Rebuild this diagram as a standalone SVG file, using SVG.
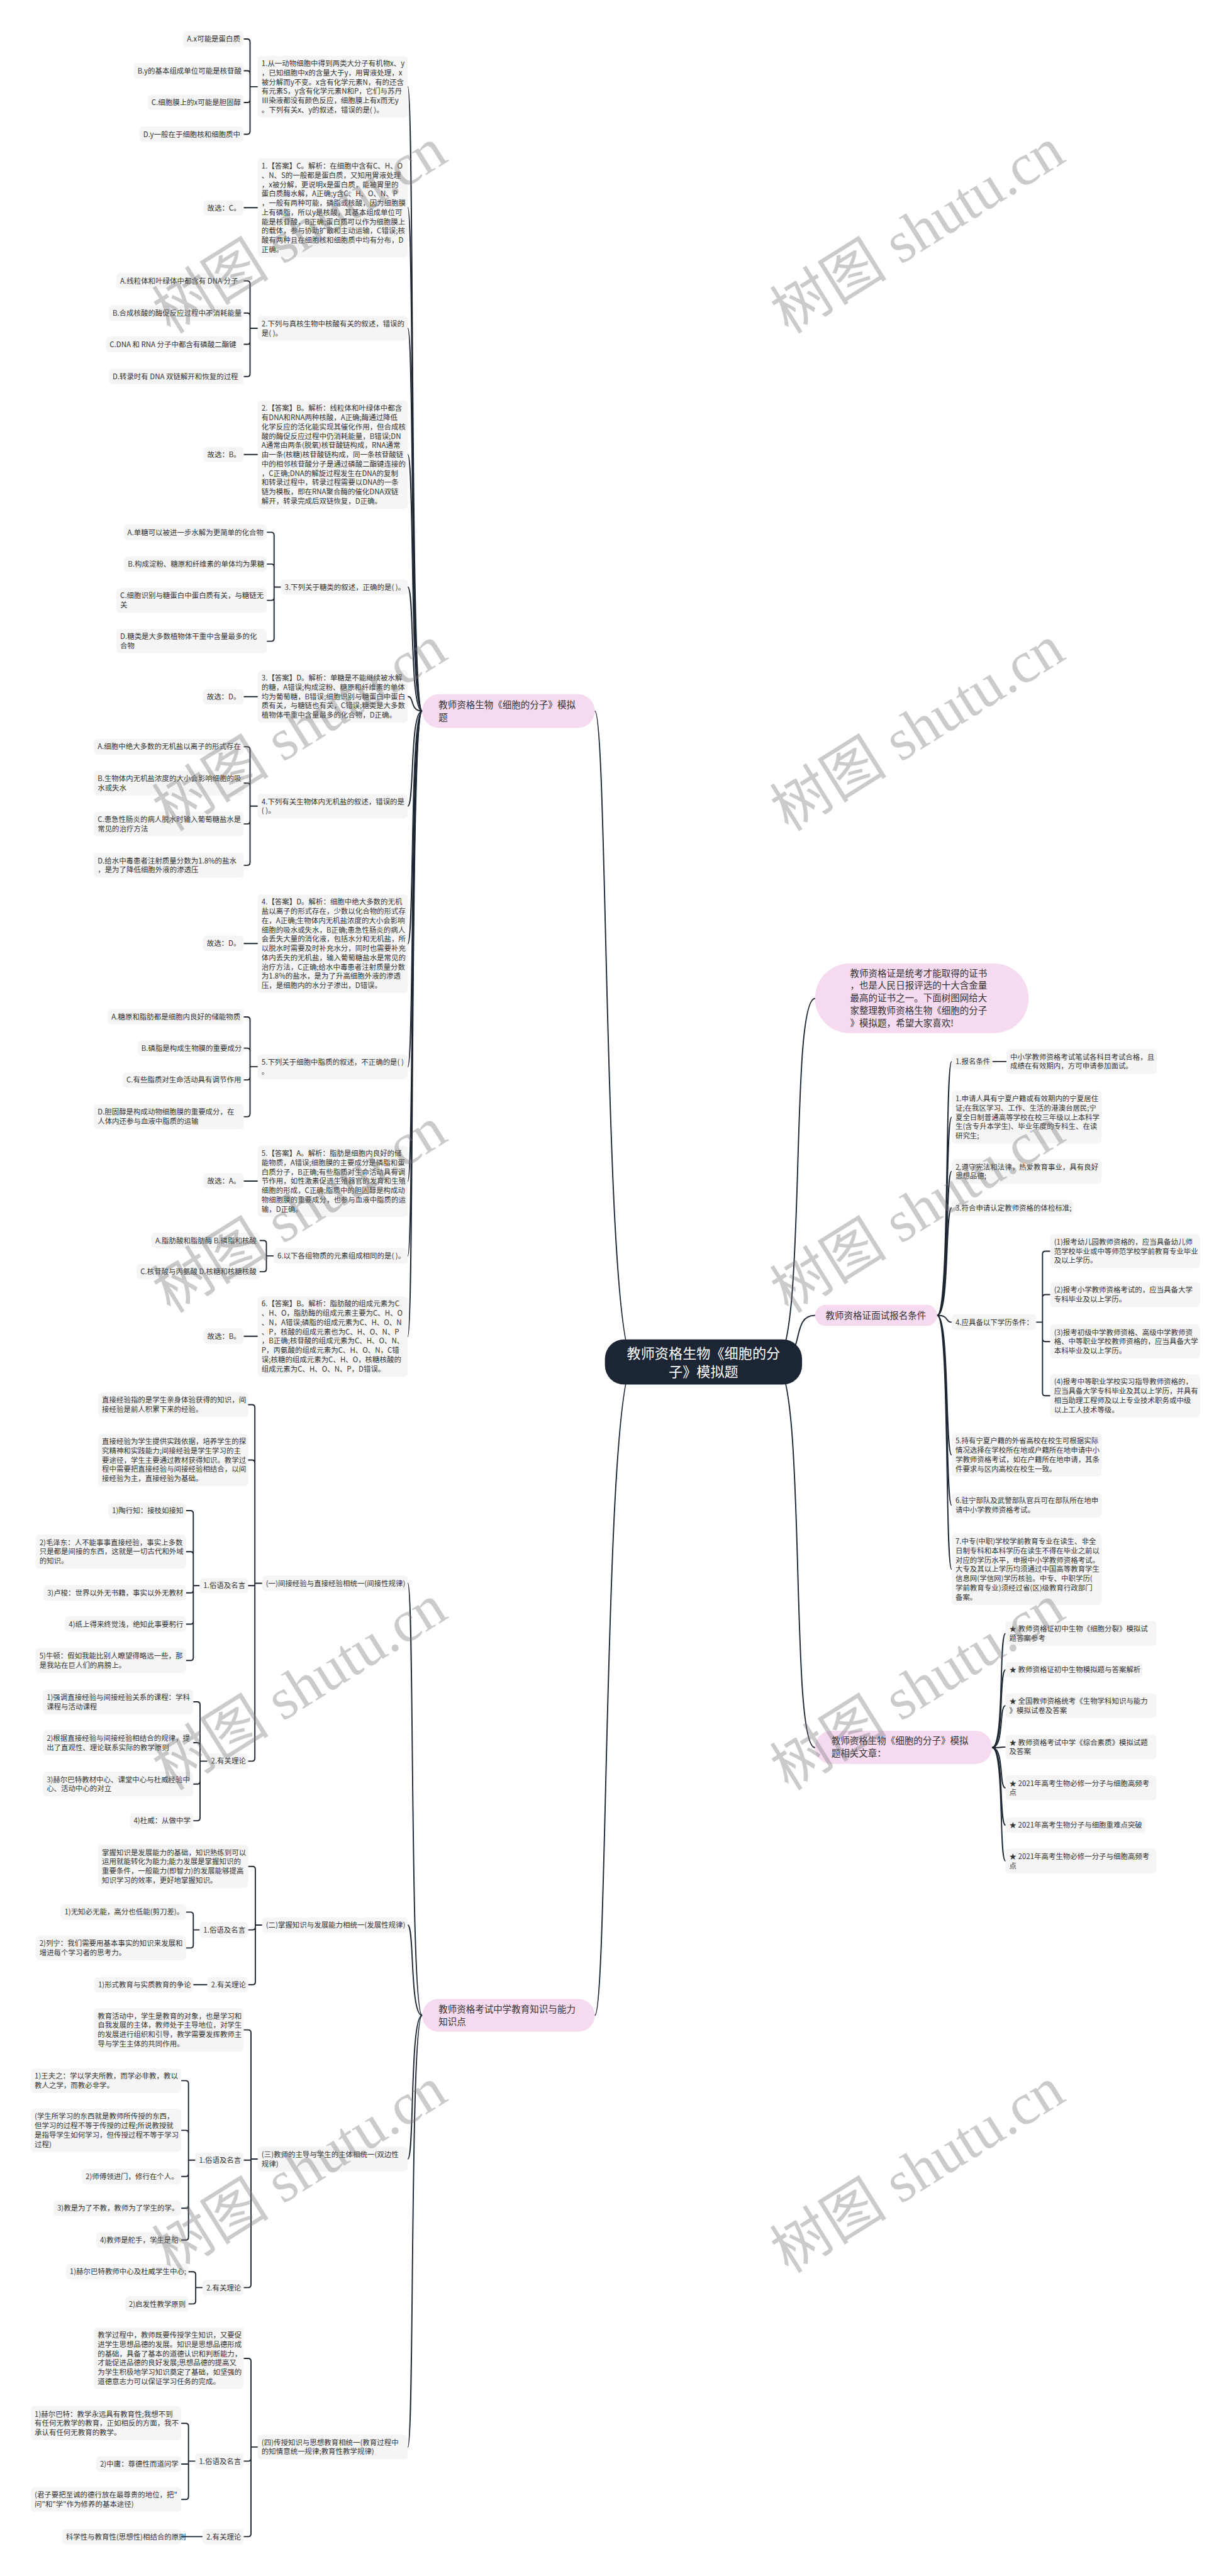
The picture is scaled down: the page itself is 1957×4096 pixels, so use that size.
<svg xmlns="http://www.w3.org/2000/svg" width="1957" height="4096" viewBox="0 0 1957 4096">
<style>
.b{fill:#f5f5f5}
.p{fill:#f6daf0}
.t{font-family:"Noto Sans CJK SC","Microsoft YaHei",sans-serif;font-size:15px;fill:#333}
.tp{font-family:"Noto Sans CJK SC","Microsoft YaHei",sans-serif;font-size:19px;fill:#333}
.tr{font-family:"Noto Sans CJK SC","Microsoft YaHei",sans-serif;font-size:29px;fill:#fff}
.c{fill:none;stroke:#1d2633;stroke-width:2.5;stroke-linecap:round}
.wm{font-family:"Liberation Serif","Noto Sans CJK SC",serif;font-size:122px;fill:#777;fill-opacity:.38}
</style>
<rect width="1957" height="4096" fill="#fff"/>
<g transform="scale(0.76445)">
<g id="connectors">
<path class="c" d="M1237 1479C1265 1479 1255 2833 1320 2833"/>
<path class="c" d="M1237 4192C1265 4192 1255 2833 1320 2833"/>
<path class="c" d="M1610 2833C1680 2833 1640 2077 1695 2077"/>
<path class="c" d="M1610 2833C1680 2833 1640 2736 1695 2736"/>
<path class="c" d="M1610 2833C1680 2833 1640 3635 1695 3635"/>
<path class="c" d="M878 1479C852 1479 862 180.4 848 180.4"/>
<path class="c" d="M878 1479C852 1479 862 432 848 432"/>
<path class="c" d="M878 1479C852 1479 862 682.8 848 682.8"/>
<path class="c" d="M878 1479C852 1479 862 945.6 848 945.6"/>
<path class="c" d="M878 1479C852 1479 862 1221.2 848 1221.2"/>
<path class="c" d="M878 1479C852 1479 862 1448.8 848 1448.8"/>
<path class="c" d="M878 1479C852 1479 862 1676.8 848 1676.8"/>
<path class="c" d="M878 1479C852 1479 862 1963 848 1963"/>
<path class="c" d="M878 1479C852 1479 862 2218.8 848 2218.8"/>
<path class="c" d="M878 1479C852 1479 862 2457 848 2457"/>
<path class="c" d="M878 1479C852 1479 862 2612.2 848 2612.2"/>
<path class="c" d="M878 1479C852 1479 862 2779.7 848 2779.7"/>
<path class="c" d="M878 4192C852 4192 862 3293.2 848 3293.2"/>
<path class="c" d="M878 4192C852 4192 862 4004.2 848 4004.2"/>
<path class="c" d="M878 4192C852 4192 862 4490.8 848 4490.8"/>
<path class="c" d="M878 4192C852 4192 862 5089.8 848 5089.8"/>
<path class="c" d="M1949 2736C1975 2736 1965 2208.2 1979 2208.2"/>
<path class="c" d="M1949 2736C1975 2736 1965 2323.8 1979 2323.8"/>
<path class="c" d="M1949 2736C1975 2736 1965 2436.8 1979 2436.8"/>
<path class="c" d="M1949 2736C1975 2736 1965 2512.2 1979 2512.2"/>
<path class="c" d="M1949 2736C1975 2736 1965 2750.2 1979 2750.2"/>
<path class="c" d="M1949 2736C1975 2736 1965 3026.1 1979 3026.1"/>
<path class="c" d="M1949 2736C1975 2736 1965 3130.8 1979 3130.8"/>
<path class="c" d="M1949 2736C1975 2736 1965 3264 1979 3264"/>
<path class="c" d="M2063 3635C2089 3635 2077 3397.8 2091 3397.8"/>
<path class="c" d="M2063 3635C2089 3635 2077 3473.2 2091 3473.2"/>
<path class="c" d="M2063 3635C2089 3635 2077 3547.8 2091 3547.8"/>
<path class="c" d="M2063 3635C2089 3635 2077 3633.8 2091 3633.8"/>
<path class="c" d="M2063 3635C2089 3635 2077 3718.8 2091 3718.8"/>
<path class="c" d="M2063 3635C2089 3635 2077 3796.2 2091 3796.2"/>
<path class="c" d="M2063 3635C2089 3635 2077 3870.8 2091 3870.8"/>
<path class="c" d="M536 180.4H520V87.2Q520 81.2 514 81.2H507M536 180.4H520V153.2Q520 147.2 514 147.2H507M536 180.4H520V207.2Q520 213.2 514 213.2H507M536 180.4H520V273.2Q520 279.2 514 279.2H507"/>
<path class="c" d="M536 432H507M536 945.4H507M536 1449H507M536 1962.5H507M536 2456.6H507M536 2779.4H507"/>
<path class="c" d="M536 682.8H520V590.2Q520 584.2 514 584.2H507M536 682.8H520V657.2Q520 651.2 514 651.2H507M536 682.8H520V710.2Q520 716.2 514 716.2H507M536 682.8H520V777.2Q520 783.2 514 783.2H507"/>
<path class="c" d="M584 1221.2H570V1113.2Q570 1107.2 564 1107.2H555M584 1221.2H570V1179.2Q570 1173.2 564 1173.2H555M584 1221.2H570V1242.8Q570 1248.8 564 1248.8H555M584 1221.2H570V1327.8Q570 1333.8 564 1333.8H555"/>
<path class="c" d="M536 1676.8H520V1559.2Q520 1553.2 514 1553.2H507M536 1676.8H520V1634.8Q520 1628.8 514 1628.8H507M536 1676.8H520V1707.8Q520 1713.8 514 1713.8H507M536 1676.8H520V1793.8Q520 1799.8 514 1799.8H507"/>
<path class="c" d="M536 2218.8H520V2121.2Q520 2115.2 514 2115.2H507M536 2218.8H520V2186.2Q520 2180.2 514 2180.2H507M536 2218.8H520V2240.2Q520 2246.2 514 2246.2H507M536 2218.8H520V2316.8Q520 2322.8 514 2322.8H507"/>
<path class="c" d="M569 2612.2H554V2586.2Q554 2580.2 548 2580.2H540M569 2612.2H554V2639.2Q554 2645.2 548 2645.2H540"/>
<path class="c" d="M545 3293.2H530V2927.8Q530 2921.8 524 2921.8H516M545 3293.2H530V3042.8Q530 3036.8 524 3036.8H516M545 3293.2H530V3298.2H516M545 3293.2H530V3657.2Q530 3663.2 524 3663.2H516"/>
<path class="c" d="M415 3298.2H402V3148.2Q402 3142.2 396 3142.2H387M415 3298.2H402V3233.5Q402 3227.5 396 3227.5H387M415 3298.2H402V3307.2Q402 3313.2 396 3313.2H387M415 3298.2H402V3372.2Q402 3378.2 396 3378.2H387M415 3298.2H402V3447.8Q402 3453.8 396 3453.8H387"/>
<path class="c" d="M431 3663.2H416V3545.8Q416 3539.8 410 3539.8H402M431 3663.2H416V3630.8Q416 3624.8 410 3624.8H402M431 3663.2H416V3704.8Q416 3710.8 410 3710.8H402M431 3663.2H416V3781.2Q416 3787.2 410 3787.2H402"/>
<path class="c" d="M545 4004.2H531V3888.1Q531 3882.1 525 3882.1H517M545 4004.2H531V4008.2Q531 4014.2 525 4014.2H517M545 4004.2H531V4122.2Q531 4128.2 525 4128.2H517"/>
<path class="c" d="M415 4014.2H402V3983.2Q402 3977.2 396 3977.2H387M415 4014.2H402V4045.8Q402 4051.8 396 4051.8H387M431 4128.2H402"/>
<path class="c" d="M536 4490.8H522V4228.1Q522 4222.1 516 4222.1H507M536 4490.8H522V4493.2H507M536 4490.8H522V4752.2Q522 4758.2 516 4758.2H507"/>
<path class="c" d="M406 4493.2H392V4333.8Q392 4327.8 386 4327.8H377M406 4493.2H392V4437.1Q392 4431.1 386 4431.1H377M406 4493.2H392V4521.2Q392 4527.2 386 4527.2H377M406 4493.2H392V4587.2Q392 4593.2 386 4593.2H377M406 4493.2H392V4653.2Q392 4659.2 386 4659.2H377"/>
<path class="c" d="M421 4758.2H407V4731.2Q407 4725.2 401 4725.2H392M421 4758.2H407V4786.2Q407 4792.2 401 4792.2H392"/>
<path class="c" d="M536 5089.8H522V4911.4Q522 4905.4 516 4905.4H507M536 5089.8H522V5113.2Q522 5119.2 516 5119.2H507M536 5089.8H522V5270.2Q522 5276.2 516 5276.2H507"/>
<path class="c" d="M406 5119.2H392V5046.5Q392 5040.5 386 5040.5H377M406 5119.2H392V5125.2H377M406 5119.2H392V5192.8Q392 5198.8 386 5198.8H377M421 5276.2H377"/>
<path class="c" d="M2064 2208H2093"/>
<path class="c" d="M2155 2750.2H2168V2608.5Q2168 2602.5 2174 2602.5H2184M2155 2750.2H2168V2698.8Q2168 2692.8 2174 2692.8H2184M2155 2750.2H2168V2784.5Q2168 2790.5 2174 2790.5H2184M2155 2750.2H2168V2897.1Q2168 2903.1 2174 2903.1H2184"/>
</g>

<g id="root"><rect x="1258" y="2786" width="410" height="94" rx="40" fill="#1b2533"/><text class="tr" x="1463" y="2826" text-anchor="middle">教师资格生物《细胞的分<tspan x="1463" dy="38">子》模拟题</tspan></text></g>

<g id="branch-a"><rect class="p" x="878" y="1444" width="359" height="70" rx="35"/><text class="tp" x="912" y="1473">教师资格生物《细胞的分子》模拟<tspan x="912" dy="26">题</tspan></text></g>
<g id="branch-b"><rect class="p" x="878" y="4158" width="359" height="68" rx="34"/><text class="tp" x="912" y="4186">教师资格考试中学教育知识与能力<tspan x="912" dy="26">知识点</tspan></text></g>
<g id="intro"><rect class="p" x="1695" y="2004" width="444" height="145" rx="72"/><text class="tp" x="1768" y="2031">教师资格证是统考才能取得的证书<tspan x="1768" dy="26">，也是人民日报评选的十大含金量</tspan><tspan x="1768" dy="26">最高的证书之一。下面树图网给大</tspan><tspan x="1768" dy="26">家整理教师资格生物《细胞的分子</tspan><tspan x="1768" dy="26">》模拟题，希望大家喜欢!</tspan></text></g>
<g id="cond"><rect class="p" x="1695" y="2714" width="254" height="44" rx="22"/><text class="tp" x="1717" y="2743">教师资格证面试报名条件</text></g>
<g id="articles"><rect class="p" x="1695" y="3600" width="368" height="69" rx="34"/><text class="tp" x="1729" y="3628">教师资格生物《细胞的分子》模拟<tspan x="1729" dy="26">题相关文章：</tspan></text></g>

<g id="q1"><rect class="b" x="536" y="116" width="312" height="128.8" rx="8"/><text class="t" x="544" y="137.6">1.从一动物细胞中得到两类大分子有机物x、y<tspan x="544" dy="19.3">，已知细胞中x的含量大于y，用胃液处理，x</tspan><tspan x="544" dy="19.3">被分解而y不变。x含有化学元素N，有的还含</tspan><tspan x="544" dy="19.3">有元素S，y含有化学元素N和P，它们与苏丹</tspan><tspan x="544" dy="19.3">Ⅲ染液都没有颜色反应，细胞膜上有x而无y</tspan><tspan x="544" dy="19.3">。下列有关x、y的叙述，错误的是( )。</tspan></text></g>
<g id="q1a"><rect class="b" x="381" y="65" width="126" height="32.3" rx="8"/><text class="t" x="389" y="86.6">A.x可能是蛋白质</text></g>
<g id="q1b"><rect class="b" x="278" y="131" width="229" height="32.3" rx="8"/><text class="t" x="286" y="152.6">B.y的基本组成单位可能是核苷酸</text></g>
<g id="q1c"><rect class="b" x="307" y="197" width="200" height="32.3" rx="8"/><text class="t" x="315" y="218.6">C.细胞膜上的x可能是胆固醇</text></g>
<g id="q1d"><rect class="b" x="290" y="263" width="217" height="32.3" rx="8"/><text class="t" x="298" y="284.6">D.y一般在于细胞核和细胞质中</text></g>
<g id="a1"><rect class="b" x="536" y="329" width="312" height="206" rx="8"/><text class="t" x="544" y="350.6">1.【答案】C。解析：在细胞中含有C、H、O<tspan x="544" dy="19.3">、N、S的一般都是蛋白质，又知用胃液处理</tspan><tspan x="544" dy="19.3">，x被分解，更说明x是蛋白质，能被胃里的</tspan><tspan x="544" dy="19.3">蛋白质酶水解，A正确;y含C、H、O、N、P</tspan><tspan x="544" dy="19.3">，一般有两种可能，磷脂或核酸，因为细胞膜</tspan><tspan x="544" dy="19.3">上有磷脂，所以y是核酸，其基本组成单位可</tspan><tspan x="544" dy="19.3">能是核苷酸，B正确;蛋白质可以作为细胞膜上</tspan><tspan x="544" dy="19.3">的载体，参与协助扩散和主动运输，C错误;核</tspan><tspan x="544" dy="19.3">酸有两种且在细胞核和细胞质中均有分布，D</tspan><tspan x="544" dy="19.3">正确。</tspan></text></g>
<g id="g1"><rect class="b" x="423" y="416" width="84" height="32.3" rx="8"/><text class="t" x="431" y="437.6">故选：C。</text></g>

<g id="q2"><rect class="b" x="536" y="657" width="312" height="51.6" rx="8"/><text class="t" x="544" y="678.6">2.下列与真核生物中核酸有关的叙述，错误的<tspan x="544" dy="19.3">是( )。</tspan></text></g>
<g id="q2a"><rect class="b" x="242" y="568" width="265" height="32.3" rx="8"/><text class="t" x="250" y="589.6">A.线粒体和叶绿体中都含有 DNA 分子</text></g>
<g id="q2b"><rect class="b" x="226" y="635" width="281" height="32.3" rx="8"/><text class="t" x="234" y="656.6">B.合成核酸的酶促反应过程中不消耗能量</text></g>
<g id="q2c"><rect class="b" x="220" y="700" width="287" height="32.3" rx="8"/><text class="t" x="228" y="721.6">C.DNA 和 RNA 分子中都含有磷酸二酯键</text></g>
<g id="q2d"><rect class="b" x="226" y="767" width="281" height="32.3" rx="8"/><text class="t" x="234" y="788.6">D.转录时有 DNA 双链解开和恢复的过程</text></g>
<g id="a2"><rect class="b" x="536" y="833" width="312" height="225.3" rx="8"/><text class="t" x="544" y="854.6">2.【答案】B。解析：线粒体和叶绿体中都含<tspan x="544" dy="19.3">有DNA和RNA两种核酸，A正确;酶通过降低</tspan><tspan x="544" dy="19.3">化学反应的活化能实现其催化作用，但合成核</tspan><tspan x="544" dy="19.3">酸的酶促反应过程中仍消耗能量，B错误;DN</tspan><tspan x="544" dy="19.3">A通常由两条(脱氧)核苷酸链构成，RNA通常</tspan><tspan x="544" dy="19.3">由一条(核糖)核苷酸链构成，同一条核苷酸链</tspan><tspan x="544" dy="19.3">中的相邻核苷酸分子是通过磷酸二酯键连接的</tspan><tspan x="544" dy="19.3">，C正确;DNA的解旋过程发生在DNA的复制</tspan><tspan x="544" dy="19.3">和转录过程中，转录过程需要以DNA的一条</tspan><tspan x="544" dy="19.3">链为模板，即在RNA聚合酶的催化DNA双链</tspan><tspan x="544" dy="19.3">解开，转录完成后双链恢复，D正确。</tspan></text></g>
<g id="g2"><rect class="b" x="423" y="929" width="84" height="32.3" rx="8"/><text class="t" x="431" y="950.6">故选：B。</text></g>

<g id="q3"><rect class="b" x="584" y="1205" width="264" height="32.3" rx="8"/><text class="t" x="592" y="1226.6">3.下列关于糖类的叙述，正确的是( )。</text></g>
<g id="q3a"><rect class="b" x="257" y="1091" width="298" height="32.3" rx="8"/><text class="t" x="265" y="1112.6">A.单糖可以被进一步水解为更简单的化合物</text></g>
<g id="q3b"><rect class="b" x="258" y="1157" width="297" height="32.3" rx="8"/><text class="t" x="266" y="1178.6">B.构成淀粉、糖原和纤维素的单体均为果糖</text></g>
<g id="q3c"><rect class="b" x="242" y="1223" width="313" height="51.6" rx="8"/><text class="t" x="250" y="1244.6">C.细胞识别与糖蛋白中蛋白质有关，与糖链无<tspan x="250" dy="19.3">关</tspan></text></g>
<g id="q3d"><rect class="b" x="242" y="1308" width="313" height="51.6" rx="8"/><text class="t" x="250" y="1329.6">D.糖类是大多数植物体干重中含量最多的化<tspan x="250" dy="19.3">合物</tspan></text></g>
<g id="a3"><rect class="b" x="536" y="1394" width="312" height="109.5" rx="8"/><text class="t" x="544" y="1415.6">3.【答案】D。解析：单糖是不能继续被水解<tspan x="544" dy="19.3">的糖，A错误;构成淀粉、糖原和纤维素的单体</tspan><tspan x="544" dy="19.3">均为葡萄糖，B错误;细胞识别与糖蛋白中蛋白</tspan><tspan x="544" dy="19.3">质有关，与糖链也有关，C错误;糖类是大多数</tspan><tspan x="544" dy="19.3">植物体干重中含量最多的化合物，D正确。</tspan></text></g>
<g id="g3"><rect class="b" x="422" y="1433" width="85" height="32.3" rx="8"/><text class="t" x="430" y="1454.6">故选：D。</text></g>

<g id="q4"><rect class="b" x="536" y="1651" width="312" height="51.6" rx="8"/><text class="t" x="544" y="1672.6">4.下列有关生物体内无机盐的叙述，错误的是<tspan x="544" dy="19.3">( )。</tspan></text></g>
<g id="q4a"><rect class="b" x="195" y="1537" width="312" height="32.3" rx="8"/><text class="t" x="203" y="1558.6">A.细胞中绝大多数的无机盐以离子的形式存在</text></g>
<g id="q4b"><rect class="b" x="195" y="1603" width="312" height="51.6" rx="8"/><text class="t" x="203" y="1624.6">B.生物体内无机盐浓度的大小会影响细胞的吸<tspan x="203" dy="19.3">水或失水</tspan></text></g>
<g id="q4c"><rect class="b" x="195" y="1688" width="312" height="51.6" rx="8"/><text class="t" x="203" y="1709.6">C.患急性肠炎的病人脱水时输入葡萄糖盐水是<tspan x="203" dy="19.3">常见的治疗方法</tspan></text></g>
<g id="q4d"><rect class="b" x="195" y="1774" width="312" height="51.6" rx="8"/><text class="t" x="203" y="1795.6">D.给水中毒患者注射质量分数为1.8%的盐水<tspan x="203" dy="19.3">，是为了降低细胞外液的渗透压</tspan></text></g>
<g id="a4"><rect class="b" x="536" y="1860" width="312" height="206" rx="8"/><text class="t" x="544" y="1881.6">4.【答案】D。解析：细胞中绝大多数的无机<tspan x="544" dy="19.3">盐以离子的形式存在，少数以化合物的形式存</tspan><tspan x="544" dy="19.3">在，A正确;生物体内无机盐浓度的大小会影响</tspan><tspan x="544" dy="19.3">细胞的吸水或失水，B正确;患急性肠炎的病人</tspan><tspan x="544" dy="19.3">会丢失大量的消化液，包括水分和无机盐，所</tspan><tspan x="544" dy="19.3">以脱水时需要及时补充水分，同时也需要补充</tspan><tspan x="544" dy="19.3">体内丢失的无机盐，输入葡萄糖盐水是常见的</tspan><tspan x="544" dy="19.3">治疗方法，C正确;给水中毒患者注射质量分数</tspan><tspan x="544" dy="19.3">为1.8%的盐水，是为了升高细胞外液的渗透</tspan><tspan x="544" dy="19.3">压，是细胞内的水分子渗出，D错误。</tspan></text></g>
<g id="g4"><rect class="b" x="422" y="1946" width="85" height="32.3" rx="8"/><text class="t" x="430" y="1967.6">故选：D。</text></g>

<g id="q5"><rect class="b" x="536" y="2193" width="312" height="51.6" rx="8"/><text class="t" x="544" y="2214.6">5.下列关于细胞中脂质的叙述，不正确的是( )<tspan x="544" dy="19.3">。</tspan></text></g>
<g id="q5a"><rect class="b" x="224" y="2099" width="283" height="32.3" rx="8"/><text class="t" x="232" y="2120.6">A.糖原和脂肪都是细胞内良好的储能物质</text></g>
<g id="q5b"><rect class="b" x="286" y="2164" width="221" height="32.3" rx="8"/><text class="t" x="294" y="2185.6">B.磷脂是构成生物膜的重要成分</text></g>
<g id="q5c"><rect class="b" x="255" y="2230" width="252" height="32.3" rx="8"/><text class="t" x="263" y="2251.6">C.有些脂质对生命活动具有调节作用</text></g>
<g id="q5d"><rect class="b" x="195" y="2297" width="312" height="51.6" rx="8"/><text class="t" x="203" y="2318.6">D.胆固醇是构成动物细胞膜的重要成分，在<tspan x="203" dy="19.3">人体内还参与血液中脂质的运输</tspan></text></g>
<g id="a5"><rect class="b" x="536" y="2383" width="312" height="148.1" rx="8"/><text class="t" x="544" y="2404.6">5.【答案】A。解析：脂肪是细胞内良好的储<tspan x="544" dy="19.3">能物质，A错误;细胞膜的主要成分是磷脂和蛋</tspan><tspan x="544" dy="19.3">白质分子，B正确;有些脂质对生命活动具有调</tspan><tspan x="544" dy="19.3">节作用，如性激素促进生殖器官的发育和生殖</tspan><tspan x="544" dy="19.3">细胞的形成，C正确;脂质中的胆固醇是构成动</tspan><tspan x="544" dy="19.3">物细胞膜的重要成分，也参与血液中脂质的运</tspan><tspan x="544" dy="19.3">输，D正确。</tspan></text></g>
<g id="g5"><rect class="b" x="423" y="2440" width="84" height="32.3" rx="8"/><text class="t" x="431" y="2461.6">故选：A。</text></g>

<g id="q6"><rect class="b" x="569" y="2596" width="279" height="32.3" rx="8"/><text class="t" x="577" y="2617.6">6.以下各组物质的元素组成相同的是( )。</text></g>
<g id="q6a"><rect class="b" x="315" y="2564" width="225" height="32.3" rx="8"/><text class="t" x="323" y="2585.6">A.脂肪酸和脂肪酶 B.磷脂和核酸</text></g>
<g id="q6b"><rect class="b" x="284" y="2629" width="256" height="32.3" rx="8"/><text class="t" x="292" y="2650.6">C.核苷酸与丙氨酸 D.核糖和核糖核酸</text></g>
<g id="a6"><rect class="b" x="536" y="2696" width="312" height="167.4" rx="8"/><text class="t" x="544" y="2717.6">6.【答案】B。解析：脂肪酸的组成元素为C<tspan x="544" dy="19.3">、H、O，脂肪酶的组成元素主要为C、H、O</tspan><tspan x="544" dy="19.3">、N，A错误;磷脂的组成元素为C、H、O、N</tspan><tspan x="544" dy="19.3">、P，核酸的组成元素也为C、H、O、N、P</tspan><tspan x="544" dy="19.3">，B正确;核苷酸的组成元素为C、H、O、N、</tspan><tspan x="544" dy="19.3">P，丙氨酸的组成元素为C、H、O、N，C错</tspan><tspan x="544" dy="19.3">误;核糖的组成元素为C、H、O，核糖核酸的</tspan><tspan x="544" dy="19.3">组成元素为C、H、O、N、P，D错误。</tspan></text></g>
<g id="g6"><rect class="b" x="423" y="2763" width="84" height="32.3" rx="8"/><text class="t" x="431" y="2784.6">故选：B。</text></g>

<g id="l1"><rect class="b" x="545" y="3277" width="303" height="32.3" rx="8"/><text class="t" x="553" y="3298.6">(一)间接经验与直接经验相统一(间接性规律)</text></g>
<g id="t1a"><rect class="b" x="204" y="2896" width="312" height="51.6" rx="8"/><text class="t" x="212" y="2917.6">直接经验指的是学生亲身体验获得的知识，间<tspan x="212" dy="19.3">接经验是前人积累下来的经验。</tspan></text></g>
<g id="t1b"><rect class="b" x="204" y="2982" width="312" height="109.5" rx="8"/><text class="t" x="212" y="3003.6">直接经验为学生提供实践依据，培养学生的探<tspan x="212" dy="19.3">究精神和实践能力;间接经验是学生学习的主</tspan><tspan x="212" dy="19.3">要途径，学生主要通过教材获得知识。教学过</tspan><tspan x="212" dy="19.3">程中需要把直接经验与间接经验相结合，以间</tspan><tspan x="212" dy="19.3">接经验为主，直接经验为基础。</tspan></text></g>
<g id="s1"><rect class="b" x="415" y="3282" width="101" height="32.3" rx="8"/><text class="t" x="423" y="3303.6">1.俗语及名言</text></g>
<g id="s1a"><rect class="b" x="225" y="3126" width="162" height="32.3" rx="8"/><text class="t" x="233" y="3147.6">1)陶行知：接枝如接知</text></g>
<g id="s1b"><rect class="b" x="74" y="3192" width="313" height="70.9" rx="8"/><text class="t" x="82" y="3213.6">2)毛泽东：人不能事事直接经验，事实上多数<tspan x="82" dy="19.3">只是都是间接的东西，这就是一切古代和外域</tspan><tspan x="82" dy="19.3">的知识。</tspan></text></g>
<g id="s1c"><rect class="b" x="90" y="3297" width="297" height="32.3" rx="8"/><text class="t" x="98" y="3318.6">3)卢梭：世界以外无书籍，事实以外无教材</text></g>
<g id="s1d"><rect class="b" x="135" y="3362" width="252" height="32.3" rx="8"/><text class="t" x="143" y="3383.6">4)纸上得来终觉浅，绝知此事要躬行</text></g>
<g id="s1e"><rect class="b" x="74" y="3428" width="313" height="51.6" rx="8"/><text class="t" x="82" y="3449.6">5)牛顿：假如我能比别人瞭望得略远一些，那<tspan x="82" dy="19.3">是我站在巨人们的肩膀上。</tspan></text></g>
<g id="r1"><rect class="b" x="431" y="3647" width="85" height="32.3" rx="8"/><text class="t" x="439" y="3668.6">2.有关理论</text></g>
<g id="r1a"><rect class="b" x="89" y="3514" width="313" height="51.6" rx="8"/><text class="t" x="97" y="3535.6">1)强调直接经验与间接经验关系的课程：学科<tspan x="97" dy="19.3">课程与活动课程</tspan></text></g>
<g id="r1b"><rect class="b" x="89" y="3599" width="313" height="51.6" rx="8"/><text class="t" x="97" y="3620.6">2)根据直接经验与间接经验相结合的规律，提<tspan x="97" dy="19.3">出了直观性、理论联系实际的教学原则</tspan></text></g>
<g id="r1c"><rect class="b" x="89" y="3685" width="313" height="51.6" rx="8"/><text class="t" x="97" y="3706.6">3)赫尔巴特教材中心、课堂中心与杜威经验中<tspan x="97" dy="19.3">心、活动中心的对立</tspan></text></g>
<g id="r1d"><rect class="b" x="270" y="3771" width="132" height="32.3" rx="8"/><text class="t" x="278" y="3792.6">4)杜威：从做中学</text></g>

<g id="l2"><rect class="b" x="545" y="3988" width="303" height="32.3" rx="8"/><text class="t" x="553" y="4009.6">(二)掌握知识与发展能力相统一(发展性规律)</text></g>
<g id="t2"><rect class="b" x="204" y="3837" width="312" height="90.2" rx="8"/><text class="t" x="212" y="3858.6">掌握知识是发展能力的基础，知识熟练到可以<tspan x="212" dy="19.3">运用就能转化为能力;能力发展是掌握知识的</tspan><tspan x="212" dy="19.3">重要条件，一般能力(即智力)的发展能够提高</tspan><tspan x="212" dy="19.3">知识学习的效率，更好地掌握知识。</tspan></text></g>
<g id="s2"><rect class="b" x="415" y="3998" width="101" height="32.3" rx="8"/><text class="t" x="423" y="4019.6">1.俗语及名言</text></g>
<g id="s2a"><rect class="b" x="126" y="3961" width="261" height="32.3" rx="8"/><text class="t" x="134" y="3982.6">1)无知必无能，高分也低能(剪刀差)。</text></g>
<g id="s2b"><rect class="b" x="74" y="4026" width="313" height="51.6" rx="8"/><text class="t" x="82" y="4047.6">2)列宁：我们需要用基本事实的知识来发展和<tspan x="82" dy="19.3">增进每个学习者的思考力。</tspan></text></g>
<g id="r2"><rect class="b" x="431" y="4112" width="85" height="32.3" rx="8"/><text class="t" x="439" y="4133.6">2.有关理论</text></g>
<g id="r2a"><rect class="b" x="196" y="4112" width="206" height="32.3" rx="8"/><text class="t" x="204" y="4133.6">1)形式教育与实质教育的争论</text></g>

<g id="l3"><rect class="b" x="536" y="4465" width="312" height="51.6" rx="8"/><text class="t" x="544" y="4486.6">(三)教师的主导与学生的主体相统一(双边性<tspan x="544" dy="19.3">规律)</tspan></text></g>
<g id="t3"><rect class="b" x="195" y="4177" width="312" height="90.2" rx="8"/><text class="t" x="203" y="4198.6">教育活动中，学生是教育的对象，也是学习和<tspan x="203" dy="19.3">自我发展的主体，教师处于主导地位，对学生</tspan><tspan x="203" dy="19.3">的发展进行组织和引导，教学需要发挥教师主</tspan><tspan x="203" dy="19.3">导与学生主体的共同作用。</tspan></text></g>
<g id="s3"><rect class="b" x="406" y="4477" width="101" height="32.3" rx="8"/><text class="t" x="414" y="4498.6">1.俗语及名言</text></g>
<g id="s3a"><rect class="b" x="64" y="4302" width="313" height="51.6" rx="8"/><text class="t" x="72" y="4323.6">1)王夫之：学以学夫所教，而学必非教，教以<tspan x="72" dy="19.3">教人之学，而教必非学。</tspan></text></g>
<g id="s3b"><rect class="b" x="64" y="4386" width="313" height="90.2" rx="8"/><text class="t" x="72" y="4407.6">(学生所学习的东西就是教师所传授的东西，<tspan x="72" dy="19.3">但学习的过程不等于传授的过程;所说教授就</tspan><tspan x="72" dy="19.3">是指导学生如何学习，但传授过程不等于学习</tspan><tspan x="72" dy="19.3">过程)</tspan></text></g>
<g id="s3c"><rect class="b" x="170" y="4511" width="207" height="32.3" rx="8"/><text class="t" x="178" y="4532.6">2)师傅领进门，修行在个人。</text></g>
<g id="s3d"><rect class="b" x="111" y="4577" width="266" height="32.3" rx="8"/><text class="t" x="119" y="4598.6">3)教是为了不教，教师为了学生的学。</text></g>
<g id="s3e"><rect class="b" x="200" y="4643" width="177" height="32.3" rx="8"/><text class="t" x="208" y="4664.6">4)教师是舵手，学生是船</text></g>
<g id="r3"><rect class="b" x="421" y="4742" width="86" height="32.3" rx="8"/><text class="t" x="429" y="4763.6">2.有关理论</text></g>
<g id="r3a"><rect class="b" x="137" y="4709" width="255" height="32.3" rx="8"/><text class="t" x="145" y="4730.6">1)赫尔巴特教师中心及杜威学生中心;</text></g>
<g id="r3b"><rect class="b" x="260" y="4776" width="132" height="32.3" rx="8"/><text class="t" x="268" y="4797.6">2)启发性教学原则</text></g>

<g id="l4"><rect class="b" x="536" y="5064" width="312" height="51.6" rx="8"/><text class="t" x="544" y="5085.6">(四)传授知识与思想教育相统一(教育过程中<tspan x="544" dy="19.3">的知情意统一规律;教育性教学规律)</tspan></text></g>
<g id="t4"><rect class="b" x="195" y="4841" width="312" height="128.8" rx="8"/><text class="t" x="203" y="4862.6">教学过程中，教师既要传授学生知识，又要促<tspan x="203" dy="19.3">进学生思想品德的发展。知识是思想品德形成</tspan><tspan x="203" dy="19.3">的基础，具备了基本的道德认识和判断能力，</tspan><tspan x="203" dy="19.3">才能促进品德的良好发展;思想品德的提高又</tspan><tspan x="203" dy="19.3">为学生积极地学习知识奠定了基础，如坚强的</tspan><tspan x="203" dy="19.3">道德意志力可以保证学习任务的完成。</tspan></text></g>
<g id="s4"><rect class="b" x="406" y="5103" width="101" height="32.3" rx="8"/><text class="t" x="414" y="5124.6">1.俗语及名言</text></g>
<g id="s4a"><rect class="b" x="64" y="5005" width="313" height="70.9" rx="8"/><text class="t" x="72" y="5026.6">1)赫尔巴特：教学永远具有教育性;我想不到<tspan x="72" dy="19.3">有任何无教学的教育，正如相反的方面，我不</tspan><tspan x="72" dy="19.3">承认有任何无教育的教学。</tspan></text></g>
<g id="s4b"><rect class="b" x="200" y="5109" width="177" height="32.3" rx="8"/><text class="t" x="208" y="5130.6">2)中庸：尊德性而道问学</text></g>
<g id="s4c"><rect class="b" x="64" y="5173" width="313" height="51.6" rx="8"/><text class="t" x="72" y="5194.6">(君子要把至诚的德行放在最尊贵的地位，把"<tspan x="72" dy="19.3">问"和"学"作为修养的基本途径)</tspan></text></g>
<g id="r4"><rect class="b" x="421" y="5260" width="86" height="32.3" rx="8"/><text class="t" x="429" y="5281.6">2.有关理论</text></g>
<g id="r4a"><rect class="b" x="129" y="5260" width="248" height="32.3" rx="8"/><text class="t" x="137" y="5281.6">科学性与教育性(思想性)相结合的原则</text></g>

<g id="c1"><rect class="b" x="1979" y="2192" width="85" height="32.3" rx="8"/><text class="t" x="1987" y="2213.6">1.报名条件</text></g>
<g id="c1x"><rect class="b" x="2093" y="2182" width="313" height="51.6" rx="8"/><text class="t" x="2101" y="2203.6">中小学教师资格考试笔试各科目考试合格，且<tspan x="2101" dy="19.3">成绩在有效期内，方可申请参加面试。</tspan></text></g>
<g id="c2"><rect class="b" x="1979" y="2269" width="312" height="109.5" rx="8"/><text class="t" x="1987" y="2290.6">1.申请人具有宁夏户籍或有效期内的宁夏居住<tspan x="1987" dy="19.3">证;在我区学习、工作、生活的港澳台居民;宁</tspan><tspan x="1987" dy="19.3">夏全日制普通高等学校在校三年级以上本科学</tspan><tspan x="1987" dy="19.3">生(含专升本学生)、毕业年度的专科生、在读</tspan><tspan x="1987" dy="19.3">研究生;</tspan></text></g>
<g id="c3"><rect class="b" x="1979" y="2411" width="312" height="51.6" rx="8"/><text class="t" x="1987" y="2432.6">2.遵守宪法和法律，热爱教育事业，具有良好<tspan x="1987" dy="19.3">思想品德;</tspan></text></g>
<g id="c4"><rect class="b" x="1979" y="2496" width="253" height="32.3" rx="8"/><text class="t" x="1987" y="2517.6">3.符合申请认定教师资格的体检标准;</text></g>
<g id="c5"><rect class="b" x="1979" y="2734" width="176" height="32.3" rx="8"/><text class="t" x="1987" y="2755.6">4.应具备以下学历条件：</text></g>
<g id="e1"><rect class="b" x="2184" y="2567" width="312" height="70.9" rx="8"/><text class="t" x="2192" y="2588.6">(1)报考幼儿园教师资格的，应当具备幼儿师<tspan x="2192" dy="19.3">范学校毕业或中等师范学校学前教育专业毕业</tspan><tspan x="2192" dy="19.3">及以上学历。</tspan></text></g>
<g id="e2"><rect class="b" x="2184" y="2667" width="312" height="51.6" rx="8"/><text class="t" x="2192" y="2688.6">(2)报考小学教师资格考试的，应当具备大学<tspan x="2192" dy="19.3">专科毕业及以上学历。</tspan></text></g>
<g id="e3"><rect class="b" x="2184" y="2755" width="312" height="70.9" rx="8"/><text class="t" x="2192" y="2776.6">(3)报考初级中学教师资格、高级中学教师资<tspan x="2192" dy="19.3">格、中等职业学校教师资格的，应当具备大学</tspan><tspan x="2192" dy="19.3">本科毕业及以上学历。</tspan></text></g>
<g id="e4"><rect class="b" x="2184" y="2858" width="312" height="90.2" rx="8"/><text class="t" x="2192" y="2879.6">(4)报考中等职业学校实习指导教师资格的，<tspan x="2192" dy="19.3">应当具备大学专科毕业及其以上学历，并具有</tspan><tspan x="2192" dy="19.3">相当助理工程师及以上专业技术职务或中级</tspan><tspan x="2192" dy="19.3">以上工人技术等级。</tspan></text></g>
<g id="c6"><rect class="b" x="1979" y="2981" width="312" height="90.2" rx="8"/><text class="t" x="1987" y="3002.6">5.持有宁夏户籍的外省高校在校生可根据实际<tspan x="1987" dy="19.3">情况选择在学校所在地或户籍所在地申请中小</tspan><tspan x="1987" dy="19.3">学教师资格考试，如在户籍所在地申请，其条</tspan><tspan x="1987" dy="19.3">件要求与区内高校在校生一致。</tspan></text></g>
<g id="c7"><rect class="b" x="1979" y="3105" width="312" height="51.6" rx="8"/><text class="t" x="1987" y="3126.6">6.驻宁部队及武警部队官兵可在部队所在地申<tspan x="1987" dy="19.3">请中小学教师资格考试。</tspan></text></g>
<g id="c8"><rect class="b" x="1979" y="3190" width="312" height="148.1" rx="8"/><text class="t" x="1987" y="3211.6">7.中专(中职)学校学前教育专业在读生、非全<tspan x="1987" dy="19.3">日制专科和本科学历在读生不得在毕业之前以</tspan><tspan x="1987" dy="19.3">对应的学历水平，申报中小学教师资格考试。</tspan><tspan x="1987" dy="19.3">大专及其以上学历均须通过中国高等教育学生</tspan><tspan x="1987" dy="19.3">信息网(学信网)学历核验。中专、中职学历(</tspan><tspan x="1987" dy="19.3">学前教育专业)须经过省(区)级教育行政部门</tspan><tspan x="1987" dy="19.3">备案。</tspan></text></g>

<g id="art1"><rect class="b" x="2091" y="3372" width="314" height="51.6" rx="8"/><text class="t" x="2099" y="3393.6">★ 教师资格证初中生物《细胞分裂》模拟试<tspan x="2099" dy="19.3">题答案参考</tspan></text></g>
<g id="art2"><rect class="b" x="2091" y="3457" width="285" height="32.3" rx="8"/><text class="t" x="2099" y="3478.6">★ 教师资格证初中生物模拟题与答案解析</text></g>
<g id="art3"><rect class="b" x="2091" y="3522" width="314" height="51.6" rx="8"/><text class="t" x="2099" y="3543.6">★ 全国教师资格统考《生物学科知识与能力<tspan x="2099" dy="19.3">》模拟试卷及答案</tspan></text></g>
<g id="art4"><rect class="b" x="2091" y="3608" width="314" height="51.6" rx="8"/><text class="t" x="2099" y="3629.6">★ 教师资格考试中学《综合素质》模拟试题<tspan x="2099" dy="19.3">及答案</tspan></text></g>
<g id="art5"><rect class="b" x="2091" y="3693" width="314" height="51.6" rx="8"/><text class="t" x="2099" y="3714.6">★ 2021年高考生物必修一分子与细胞高频考<tspan x="2099" dy="19.3">点</tspan></text></g>
<g id="art6"><rect class="b" x="2091" y="3780" width="291" height="32.3" rx="8"/><text class="t" x="2099" y="3801.6">★ 2021年高考生物分子与细胞重难点突破</text></g>
<g id="art7"><rect class="b" x="2091" y="3845" width="314" height="51.6" rx="8"/><text class="t" x="2099" y="3866.6">★ 2021年高考生物必修一分子与细胞高频考<tspan x="2099" dy="19.3">点</tspan></text></g>

<g id="watermarks">
<text class="wm" text-anchor="middle" transform="translate(645 515) rotate(-32)">树图 shutu.cn</text>
<text class="wm" text-anchor="middle" transform="translate(645 1550) rotate(-32)">树图 shutu.cn</text>
<text class="wm" text-anchor="middle" transform="translate(645 2552) rotate(-32)">树图 shutu.cn</text>
<text class="wm" text-anchor="middle" transform="translate(645 3545) rotate(-32)">树图 shutu.cn</text>
<text class="wm" text-anchor="middle" transform="translate(645 4549) rotate(-32)">树图 shutu.cn</text>
<text class="wm" text-anchor="middle" transform="translate(1930 515) rotate(-32)">树图 shutu.cn</text>
<text class="wm" text-anchor="middle" transform="translate(1930 1550) rotate(-32)">树图 shutu.cn</text>
<text class="wm" text-anchor="middle" transform="translate(1930 2552) rotate(-32)">树图 shutu.cn</text>
<text class="wm" text-anchor="middle" transform="translate(1930 3545) rotate(-32)">树图 shutu.cn</text>
<text class="wm" text-anchor="middle" transform="translate(1930 4549) rotate(-32)">树图 shutu.cn</text>
</g>
</g>
</svg>
